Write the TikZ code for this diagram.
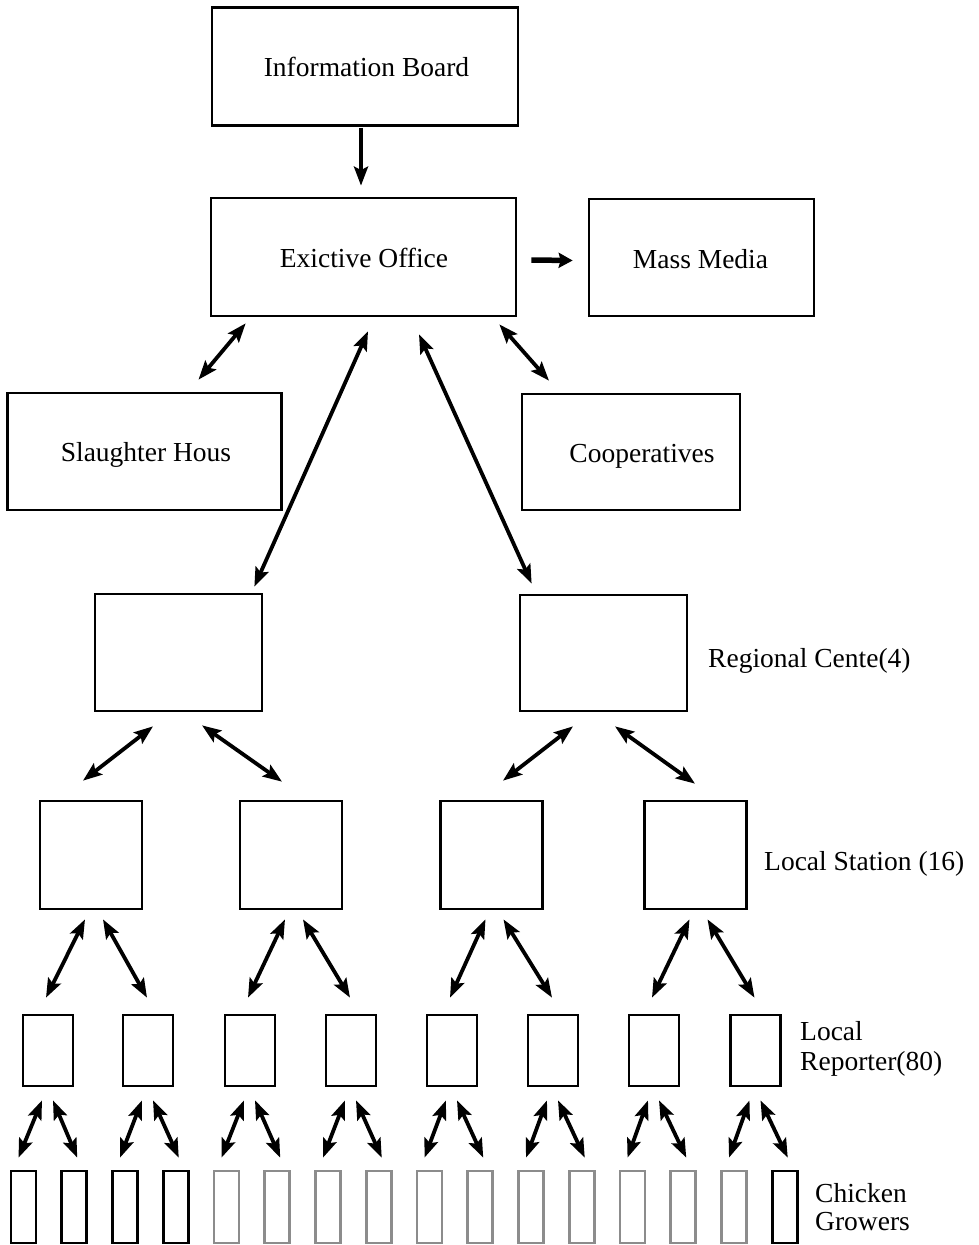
\documentclass[tikz,border=0pt]{standalone}
\usepackage{fontspec}
\setmainfont{Liberation Serif}
\usetikzlibrary{arrows.meta}
\begin{document}
\begin{tikzpicture}[x=1pt,y=-1pt,
  box/.style={draw=black,line width=2.7pt,rectangle,inner sep=0pt,fill=white},
  gbox/.style={box,draw=black!45},
  txt/.style={inner sep=0pt,font=\fontsize{27.5}{30}\selectfont},
  tip/.tip={Stealth[length=19pt,width=14pt,inset=3.5pt]},
  dbl/.style={line width=3.8pt,tip-tip},
  one/.style={line width=3.8pt,-tip},
  fat/.style={line width=5.5pt,-{Stealth[length=14pt,width=15pt,inset=2pt]}}]
\useasboundingbox (0,0) rectangle (978,1245);
% top boxes
\node[box,minimum width=306pt,minimum height=118pt] (ib) at (365,66.5) {};
\node[box,minimum width=305pt,minimum height=118pt] (ex) at (363.5,257) {};
\node[box,minimum width=225pt,minimum height=117pt] (mm) at (701.5,257.5) {};
\node[box,minimum width=274pt,minimum height=117pt] (sh) at (144.5,451.5) {};
\node[box,minimum width=218pt,minimum height=116pt] (co) at (631,452) {};
\node[box,minimum width=167pt,minimum height=117pt] (rl) at (178.5,652.5) {};
\node[box,minimum width=167pt,minimum height=116pt] (rr) at (603.5,653) {};
% texts
\node[txt,anchor=base] (ibt) at (366.5,76) {Information Board};
\node[txt,anchor=base] (ext) at (364,267) {Exictive Office};
\node[txt,anchor=base] (mmt) at (700.5,268) {Mass Media};
\node[txt,anchor=base] (sht) at (146,461) {Slaughter Hous};
\node[txt,anchor=base] (cot) at (642,462) {Cooperatives};
\node[txt,anchor=base west] (rct) at (708,667) {Regional Cente(4)};
\node[txt,anchor=base west] (lst) at (764,870) {Local Station (16)};
\node[txt,anchor=base west,align=left] (lrt) at (800,1070) {Local\\Reporter(80)};
\node[txt,anchor=base west,align=left,font=\fontsize{27.5}{28}\selectfont] (cgt) at (815,1230) {Chicken\\Growers};
% stations
\foreach \i/\x in {1/91,2/291,3/491.5,4/695.5}
  \node[box,minimum width=102pt,minimum height=108pt] (st\i) at (\x,855) {};
% reporters
\foreach \i/\x in {1/48,2/148,3/250,4/351,5/452,6/553,7/654,8/755.5}
  \node[box,minimum width=50pt,minimum height=71pt] (rp\i) at (\x,1050.5) {};
% growers
\foreach \i in {1,...,16}{
  \pgfmathsetmacro{\gx}{23.5+50.75*(\i-1)}
  \ifnum\i<5 \def\gs{box}\else\ifnum\i>15 \def\gs{box}\else\def\gs{gbox}\fi\fi
  \node[\gs,minimum width=25pt,minimum height=72pt] (gr\i) at (\gx,1207) {};
}
% connectors
\draw[one] ([shift={(-4,1)}]ib.south) -- ([shift={(-2.5,-11)}]ex.north);
\draw[fat] ([shift={(14,3)}]ex.east) -- ([shift={(-15,3)}]mm.west);
\draw[dbl] ([shift={(36,6)}]ex.south west) -- ([shift={(54,-12)}]sh.north);
\draw[dbl] ([shift={(-18,7)}]ex.south east) -- ([shift={(-82,-12)}]co.north);
\draw[dbl] ([shift={(4.5,14)}]ex.south) -- ([shift={(-9,-6)}]rl.north east);
\draw[dbl] ([shift={(55.5,17)}]ex.south) -- ([shift={(13,-10)}]rr.north west);
\draw[dbl] ([shift={(-25.5,14)}]rl.south) -- ([shift={(-8,-19)}]st1.north);
\draw[dbl] ([shift={(23.5,13)}]rl.south) -- ([shift={(-9,-18)}]st2.north);
\draw[dbl] ([shift={(-30.5,14)}]rr.south) -- ([shift={(11.5,-19)}]st3.north);
\draw[dbl] ([shift={(11.5,14)}]rr.south) -- ([shift={(-0.5,-16)}]st4.north);
\foreach \i [evaluate=\i as \j using int(2*\i-1), evaluate=\i as \k using int(2*\i)] in {1,...,4}{
  \draw[dbl] ([shift={(-6,9)}]st\i.south) -- ([shift={(-2,-16)}]rp\j.north);
  \draw[dbl] ([shift={(12,9)}]st\i.south) -- ([shift={(-1,-16)}]rp\k.north);
}
\foreach \i [evaluate=\i as \j using int(2*\i-1), evaluate=\i as \k using int(2*\i)] in {1,...,8}{
  \draw[dbl] ([shift={(-6,13)}]rp\i.south) -- ([shift={(-5,-12)}]gr\j.north);
  \draw[dbl] ([shift={(5,13)}]rp\i.south) -- ([shift={(3,-12)}]gr\k.north);
}
\end{tikzpicture}
\end{document}
